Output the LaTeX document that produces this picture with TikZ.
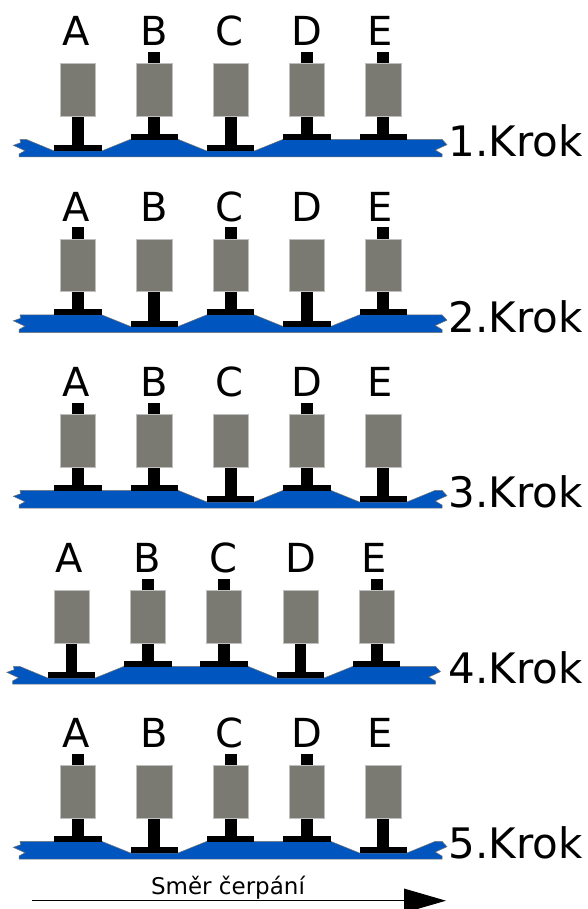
\documentclass[tikz,border=0pt]{standalone}
\usepackage{fontspec}
\setmainfont{DejaVu Sans}
\usetikzlibrary{arrows.meta}
\definecolor{beltblue}{HTML}{0056BE}
\definecolor{bodygrey}{HTML}{7A7A73}
\tikzset{
  beltshape/.style={fill=beltblue,draw=black!55,line width=0.5pt},
  bodyshape/.style={fill=bodygrey,draw=black!25,line width=0.5pt},
  rodshape/.style={fill=black,draw=none},
  letter/.style={font=\fontsize{40}{40}\selectfont,anchor=base,inner sep=0pt},
  steplabel/.style={font=\fontsize{42}{42}\selectfont,anchor=base west,inner sep=0pt},
}
% #1 = piston x: raised piston
\newcommand{\pistonup}[1]{%
  \fill[rodshape] (#1-5.9,51.7) rectangle (#1+5.9,64);
  \fill[rodshape] (#1-5.9,116) rectangle (#1+5.9,134);
  \fill[rodshape] (#1-23.7,133.7) rectangle (#1+23.7,139.6);
  \path[bodyshape] (#1-17.6,63.3) rectangle (#1+17.6,116);
}
% #1 = piston x: lowered piston
\newcommand{\pistondown}[1]{%
  \fill[rodshape] (#1-5.9,116) rectangle (#1+5.9,146);
  \fill[rodshape] (#1-23.7,145.3) rectangle (#1+23.7,151.2);
  \path[bodyshape] (#1-17.6,63.3) rectangle (#1+17.6,116);
}
\newcommand{\beltends}{(442,154) -- (442,157) -- (19,157) -- (19,154) -- (25,150.7) -- (13.3,145.3) -- (20.7,142.7) -- (20,139.3)}
\newcommand{\rightnotch}{(442,139.3) -- (447,144.7) -- (435.3,150)}
\newcommand{\letters}[1]{%
  \node[letter] (#1a) at (75.7,45.7) {A};
  \node[letter] (#1b) at (154,45.7) {B};
  \node[letter] (#1c) at (229.7,45.7) {C};
  \node[letter] (#1d) at (307.2,45.7) {D};
  \node[letter] (#1e) at (380.5,45.7) {E};
}
\begin{document}
\begin{tikzpicture}[x=1pt,y=-1pt]
\useasboundingbox (0,0) rectangle (587,909);
\clip (0,0) rectangle (587,909);
% Step 1
\begin{scope}
  \path[beltshape] (20,139.3) -- (26,139.3) -- (54.3,151) -- (101.7,151) -- (130.6,139.3) -- (178,139.3) -- (206.9,151) -- (254.3,151) -- (283.2,139.3) -- \rightnotch -- \beltends -- cycle;
  \pistondown{78}\pistonup{154.3}\pistondown{230.6}\pistonup{306.9}\pistonup{383.2}
  \letters{p}
\end{scope}
\node[steplabel] (s1) at (448.5,156.7) {1.Krok};
% Step 2
\begin{scope}[yshift=-175.5pt]
  \path[beltshape] (20,139.3) -- (101.7,139.3) -- (130.6,151) -- (178,151) -- (206.9,139.3) -- (254.3,139.3) -- (283.2,151) -- (330.6,151) -- (359.5,139.3) -- \rightnotch -- \beltends -- cycle;
  \pistonup{78}\pistondown{154.3}\pistonup{230.6}\pistondown{306.9}\pistonup{383.2}
  \letters{q}
\end{scope}
\node[steplabel] (s2) at (448.5,332.2) {2.Krok};
% Step 3
\begin{scope}[yshift=-351pt]
  \path[beltshape] (20,139.3) -- (178,139.3) -- (206.9,151) -- (254.3,151) -- (283.2,139.3) -- (330.6,139.3) -- (359.5,151) -- (406.9,151) -- (435.3,139.3) -- \rightnotch -- \beltends -- cycle;
  \pistonup{78}\pistonup{154.3}\pistondown{230.6}\pistonup{306.9}\pistondown{383.2}
  \letters{r}
\end{scope}
\node[steplabel] (s3) at (448.5,507.7) {3.Krok};
% Step 4
\begin{scope}[xshift=-6.5pt,yshift=-527pt]
  \path[beltshape] (20,139.3) -- (26,139.3) -- (54.3,151) -- (101.7,151) -- (130.6,139.3) -- (254.3,139.3) -- (283.2,151) -- (330.6,151) -- (359.5,139.3) -- \rightnotch -- \beltends -- cycle;
  \pistondown{78}\pistonup{154.3}\pistonup{230.6}\pistondown{306.9}\pistonup{383.2}
  \letters{t}
\end{scope}
\node[steplabel] (s4) at (448.5,683.7) {4.Krok};
% Step 5
\begin{scope}[yshift=-702pt]
  \path[beltshape] (20,139.3) -- (101.7,139.3) -- (130.6,151) -- (178,151) -- (206.9,139.3) -- (330.6,139.3) -- (359.5,151) -- (406.9,151) -- (435.3,139.3) -- \rightnotch -- \beltends -- cycle;
  \pistonup{78}\pistondown{154.3}\pistonup{230.6}\pistonup{306.9}\pistondown{383.2}
  \letters{u}
\end{scope}
\node[steplabel] (s5) at (448.5,858.7) {5.Krok};
% Direction
\node[font=\fontsize{23}{23}\selectfont,anchor=base,inner sep=0pt] (dirlabel) at (228,894.5) {Směr čerpání};
\coordinate (flowstart) at (32,900.7);
\coordinate (flowend) at (446,900.7);
\draw[line width=1.3pt,-{Triangle[length=42pt,width=24pt]}] (flowstart) -- (flowend);
\end{tikzpicture}
\end{document}
